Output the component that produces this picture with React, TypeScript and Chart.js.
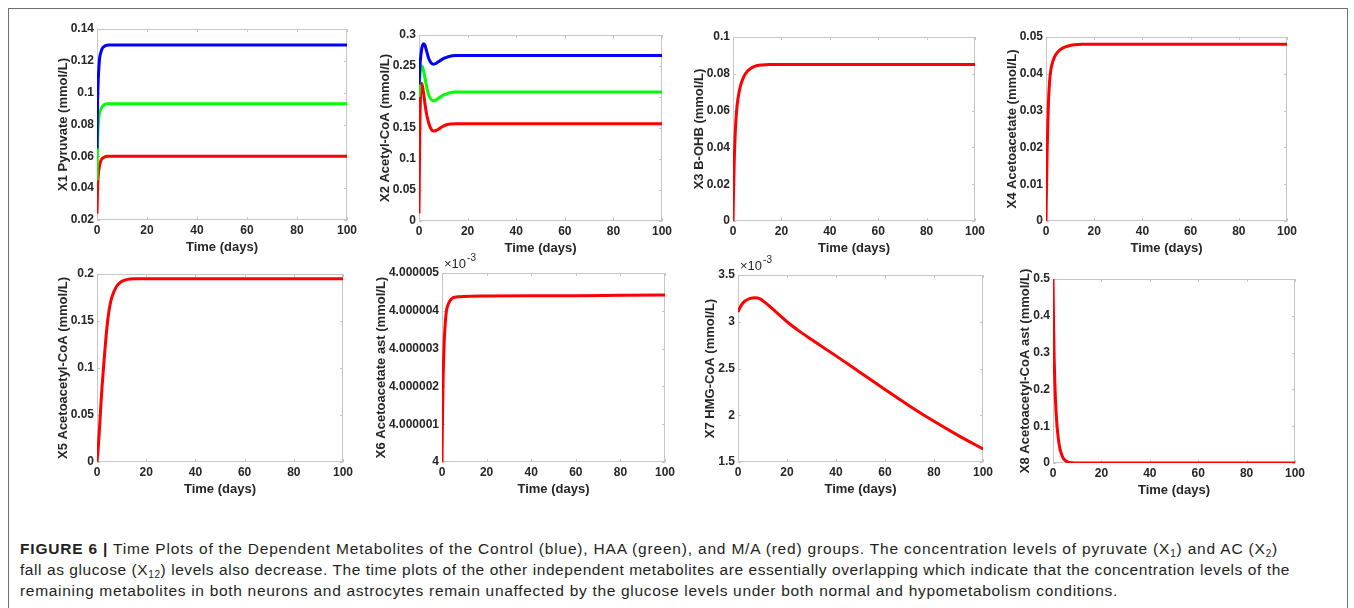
import React, { useEffect, useLayoutEffect, useRef } from "react";
import { Chart, registerables } from "chart.js";

Chart.register(...registerables);

// ---------------- data ----------------
const X_TICKS = [0, 20, 40, 60, 80, 100];

const T_X1 = [0, 0.25, 0.5, 1, 1.5, 2, 3, 4, 5, 6, 8, 10, 20, 40, 60, 80, 100];
const X1_CONTROL = [0.065, 0.095, 0.108, 0.121, 0.125, 0.1275, 0.1292, 0.1298, 0.13, 0.13, 0.13, 0.13, 0.13, 0.13, 0.13, 0.13, 0.13];
const X1_HAA = [0.045, 0.07, 0.08, 0.087, 0.0895, 0.091, 0.0925, 0.093, 0.093, 0.093, 0.093, 0.093, 0.093, 0.093, 0.093, 0.093, 0.093];
const X1_MA = [0.024, 0.041, 0.048, 0.054, 0.057, 0.0585, 0.0595, 0.06, 0.06, 0.06, 0.06, 0.06, 0.06, 0.06, 0.06, 0.06, 0.06];
const Y_TICKS_X1 = [0.02, 0.04, 0.06, 0.08, 0.1, 0.12, 0.14];

const T_X2 = [0, 0.25, 0.5, 1, 1.5, 2, 2.5, 3, 4, 5, 6, 7, 8, 10, 12, 15, 20, 40, 60, 80, 100];
const X2_CONTROL = [0.22, 0.24, 0.256, 0.275, 0.284, 0.286, 0.283, 0.276, 0.262, 0.255, 0.253, 0.254, 0.257, 0.262, 0.265, 0.267, 0.267, 0.267, 0.267, 0.267, 0.267];
const X2_HAA = [0.2, 0.225, 0.24, 0.25, 0.248, 0.24, 0.23, 0.219, 0.203, 0.196, 0.194, 0.195, 0.198, 0.203, 0.206, 0.208, 0.208, 0.208, 0.208, 0.208, 0.208];
const X2_MA = [0.012, 0.12, 0.185, 0.222, 0.216, 0.203, 0.188, 0.175, 0.158, 0.148, 0.145, 0.146, 0.148, 0.153, 0.156, 0.157, 0.157, 0.157, 0.157, 0.157, 0.157];
const Y_TICKS_X2 = [0, 0.05, 0.1, 0.15, 0.2, 0.25, 0.3];

const T_X3 = [0, 0.25, 0.5, 1, 1.5, 2, 3, 4, 5, 6, 8, 10, 12, 15, 20, 40, 60, 80, 100];
const X3_MA = [0, 0.018, 0.032, 0.05, 0.06, 0.066, 0.073, 0.077, 0.0797, 0.0815, 0.0835, 0.0845, 0.0848, 0.085, 0.085, 0.085, 0.085, 0.085, 0.085];
const Y_TICKS_X3 = [0, 0.02, 0.04, 0.06, 0.08, 0.1];

const T_X4 = [0, 0.25, 0.5, 1, 1.5, 2, 3, 4, 5, 6, 8, 10, 12, 15, 20, 40, 60, 80, 100];
const X4_MA = [0, 0.011, 0.02, 0.032, 0.038, 0.041, 0.0437, 0.0452, 0.046, 0.0466, 0.0473, 0.0477, 0.0479, 0.048, 0.048, 0.048, 0.048, 0.048, 0.048];
const Y_TICKS_X4 = [0, 0.01, 0.02, 0.03, 0.04, 0.05];

const T_X5 = [0, 0.5, 1, 1.5, 2, 3, 4, 5, 6, 8, 10, 12, 15, 20, 40, 60, 80, 100];
const X5_MA = [0, 0.015, 0.035, 0.057, 0.078, 0.112, 0.142, 0.163, 0.175, 0.187, 0.192, 0.194, 0.195, 0.195, 0.195, 0.195, 0.195, 0.195];
const Y_TICKS_X5 = [0, 0.05, 0.1, 0.15, 0.2];

// values in units of 10^-3 mmol/L
const T_X6 = [0, 0.25, 0.5, 1, 1.5, 2, 3, 4, 5, 7, 10, 20, 40, 60, 80, 100];
const X6_MA = [4.0, 4.0000013, 4.0000022, 4.0000032, 4.0000037, 4.000004, 4.0000042, 4.0000043, 4.00000435, 4.00000437, 4.00000438, 4.00000439, 4.0000044, 4.0000044, 4.00000441, 4.00000442];
const Y_TICKS_X6 = [4, 4.000001, 4.000002, 4.000003, 4.000004, 4.000005];

// values in units of 10^-3 mmol/L
const T_X7 = [0, 1, 2, 3, 5, 7, 9, 11, 14, 17, 20, 25, 30, 40, 50, 60, 70, 80, 90, 100];
const X7_MA = [3.105, 3.16, 3.2, 3.225, 3.25, 3.258, 3.245, 3.207, 3.14, 3.07, 3.0, 2.9, 2.81, 2.635, 2.455, 2.275, 2.1, 1.935, 1.782, 1.64];
const Y_TICKS_X7 = [1.5, 2, 2.5, 3, 3.5];

const T_X8 = [0, 0.15, 0.25, 0.4, 0.5, 0.75, 1, 1.5, 2, 2.5, 3, 4, 5, 6, 8, 10, 20, 40, 60, 80, 100];
const X8_MA = [0.5, 0.42, 0.37, 0.31, 0.28, 0.22, 0.175, 0.115, 0.078, 0.052, 0.035, 0.016, 0.007, 0.003, 0.0005, 0, 0, 0, 0, 0, 0];
const Y_TICKS_X8 = [0, 0.1, 0.2, 0.3, 0.4, 0.5];

const Y_TITLES = [
  "X1 Pyruvate (mmol/L)",
  "X2 Acetyl-CoA (mmol/L)",
  "X3 B-OHB (mmol/L)",
  "X4 Acetoacetate (mmol/L)",
  "X5 Acetoacetyl-CoA (mmol/L)",
  "X6 Acetoacetate ast (mmol/L)",
  "X7 HMG-CoA (mmol/L)",
  "X8 Acetoacetyl-CoA ast (mmol/L)",
];
const X_TITLE = "Time (days)";

// ---------------- styles ----------------
const BLUE = "#0000ff";
const GREEN = "#00ff00";
const RED = "#ff0000";
const TEXT = "#262626";
const BOX = "#c6c6c6";
const FONT = "'Liberation Sans', Arial, Helvetica, sans-serif";

type Series = { data: number[]; color: string };
type PanelDef = { time: number[]; series: Series[]; yTicks: number[]; title: string; exp?: boolean };

const PANELS: PanelDef[] = [
  { time: T_X1, series: [{ data: X1_CONTROL, color: BLUE }, { data: X1_HAA, color: GREEN }, { data: X1_MA, color: RED }], yTicks: Y_TICKS_X1, title: Y_TITLES[0] },
  { time: T_X2, series: [{ data: X2_CONTROL, color: BLUE }, { data: X2_HAA, color: GREEN }, { data: X2_MA, color: RED }], yTicks: Y_TICKS_X2, title: Y_TITLES[1] },
  { time: T_X3, series: [{ data: X3_MA, color: RED }], yTicks: Y_TICKS_X3, title: Y_TITLES[2] },
  { time: T_X4, series: [{ data: X4_MA, color: RED }], yTicks: Y_TICKS_X4, title: Y_TITLES[3] },
  { time: T_X5, series: [{ data: X5_MA, color: RED }], yTicks: Y_TICKS_X5, title: Y_TITLES[4] },
  { time: T_X6, series: [{ data: X6_MA, color: RED }], yTicks: Y_TICKS_X6, title: Y_TITLES[5], exp: true },
  { time: T_X7, series: [{ data: X7_MA, color: RED }], yTicks: Y_TICKS_X7, title: Y_TITLES[6], exp: true },
  { time: T_X8, series: [{ data: X8_MA, color: RED }], yTicks: Y_TICKS_X8, title: Y_TITLES[7] },
];

// plot-area boxes (layout only)
const LAYOUT = [
  { l: 97, r: 347, t: 29, b: 220 },
  { l: 419, r: 662, t: 35, b: 221 },
  { l: 733, r: 975, t: 37, b: 221 },
  { l: 1046, r: 1287, t: 37, b: 221 },
  { l: 97, r: 343, t: 274, b: 462 },
  { l: 442, r: 665, t: 273, b: 462 },
  { l: 738, r: 983, t: 275, b: 462 },
  { l: 1053, r: 1295, t: 279, b: 463 },
];

const TOP_PAD = 22;
const RIGHT_PAD = 20;
const X_AXIS_H = 35;
const Y_AXIS_W = 70;
const TICK_PAD = 3;
const TICK_FONT_SIZE = 12;
const TITLE_FONT_SIZE = 13;

const fmt = (v: number) => String(Number(Number(v).toPrecision(10)));

const boxPlugin = {
  id: "matlabBox",
  beforeDatasetsDraw(chart: any) {
    const { ctx, chartArea: a, scales } = chart;
    ctx.save();
    ctx.strokeStyle = BOX;
    ctx.lineWidth = 1;
    ctx.strokeRect(a.left + 0.5, a.top + 0.5, a.right - a.left - 1, a.bottom - a.top - 1);
    const TL = 3;
    ctx.beginPath();
    for (const t of scales.x.ticks) {
      const px = Math.round(scales.x.getPixelForValue(t.value)) + 0.5;
      ctx.moveTo(px, a.bottom);
      ctx.lineTo(px, a.bottom - TL);
      ctx.moveTo(px, a.top);
      ctx.lineTo(px, a.top + TL);
    }
    for (const t of scales.y.ticks) {
      const py = Math.round(scales.y.getPixelForValue(t.value)) + 0.5;
      ctx.moveTo(a.left, py);
      ctx.lineTo(a.left + TL, py);
      ctx.moveTo(a.right, py);
      ctx.lineTo(a.right - TL, py);
    }
    ctx.stroke();
    ctx.restore();
  },
};

const yTitlePlugin = {
  id: "yTitle",
  afterDraw(chart: any) {
    const o = chart.options.plugins.yTitle;
    if (!o) return;
    const { ctx, chartArea: a, scales } = chart;
    ctx.save();
    ctx.font = `bold ${TICK_FONT_SIZE}px ${FONT}`;
    let maxW = 0;
    for (const t of scales.y.ticks) maxW = Math.max(maxW, ctx.measureText(fmt(t.value)).width);
    const x = a.left - TICK_PAD - maxW - 1;
    ctx.font = `bold ${TITLE_FONT_SIZE}px ${FONT}`;
    ctx.fillStyle = TEXT;
    ctx.translate(x, (a.top + a.bottom) / 2);
    ctx.rotate(-Math.PI / 2);
    ctx.textAlign = "center";
    ctx.textBaseline = "bottom";
    ctx.fillText(o.text, 0, 0);
    ctx.restore();
  },
};

const expPlugin = {
  id: "expLabel",
  afterDraw(chart: any) {
    const opts = chart.options.plugins.expLabel;
    if (!opts || !opts.show) return;
    const { ctx, chartArea: a } = chart;
    ctx.save();
    ctx.fillStyle = TEXT;
    ctx.textBaseline = "alphabetic";
    ctx.textAlign = "left";
    ctx.font = `13px ${FONT}`;
    const base = a.top - 5;
    const x0 = a.left + 2;
    ctx.fillText("\u00d710", x0, base);
    const w = ctx.measureText("\u00d710").width;
    ctx.font = `10px ${FONT}`;
    ctx.fillText("-3", x0 + w + 1, base - 7);
    ctx.restore();
  },
};

function Panel({ def, box }: { def: PanelDef; box: { l: number; r: number; t: number; b: number } }) {
  const ref = useRef<HTMLCanvasElement>(null);
  const cl = box.l - Y_AXIS_W;
  const ct = box.t - TOP_PAD;
  const cw = box.r + RIGHT_PAD - cl;
  const ch = box.b + X_AXIS_H - ct;

  useEffect(() => {
    if (!ref.current) return;
    const tickFont = { family: FONT, size: TICK_FONT_SIZE, weight: "bold" as const };
    const titleFont = { family: FONT, size: TITLE_FONT_SIZE, weight: "bold" as const, lineHeight: 1.2 };
    const chart = new Chart(ref.current, {
      type: "line",
      data: {
        datasets: def.series.map((s) => ({
          data: def.time.map((t, i) => ({ x: t, y: s.data[i] })),
          borderColor: s.color,
          backgroundColor: s.color,
          borderWidth: 3,
          pointRadius: 0,
          fill: false,
          cubicInterpolationMode: "monotone" as const,
        })),
      },
      options: {
        responsive: false,
        animation: false,
        devicePixelRatio: 1,
        layout: { padding: { top: TOP_PAD, right: RIGHT_PAD, left: 0, bottom: 0 } },
        plugins: {
          legend: { display: false },
          tooltip: { enabled: false },
          expLabel: { show: !!def.exp },
          yTitle: { text: def.title },
        } as any,
        scales: {
          x: {
            type: "linear",
            min: 0,
            max: 100,
            grid: { display: false, drawTicks: false },
            border: { display: false },
            afterBuildTicks: (s: any) => {
              s.ticks = X_TICKS.map((v) => ({ value: v }));
            },
            afterFit: (s: any) => {
              s.height = X_AXIS_H;
            },
            ticks: { autoSkip: false, maxRotation: 0, padding: 3, color: TEXT, font: tickFont, callback: (v: any) => fmt(v) },
            title: { display: true, text: X_TITLE, color: TEXT, font: titleFont, padding: 0 },
          },
          y: {
            type: "linear",
            min: def.yTicks[0],
            max: def.yTicks[def.yTicks.length - 1],
            grid: { display: false, drawTicks: false },
            border: { display: false },
            afterBuildTicks: (s: any) => {
              s.ticks = def.yTicks.map((v) => ({ value: v }));
            },
            afterFit: (s: any) => {
              s.width = Y_AXIS_W;
            },
            ticks: { autoSkip: false, padding: TICK_PAD, color: TEXT, font: tickFont, callback: (v: any) => fmt(v) },
            title: { display: false },
          },
        },
      } as any,
      plugins: [boxPlugin, yTitlePlugin, expPlugin],
    });
    return () => chart.destroy();
  }, []);

  return (
    <canvas
      ref={ref}
      width={cw}
      height={ch}
      style={{ position: "absolute", left: cl, top: ct, width: cw, height: ch }}
    />
  );
}

const CAP_FONT = "'Liberation Sans Narrow', 'Liberation Sans', Arial, sans-serif";
const CAP_LINE_WIDTHS = [1258, 1270, 1098];
const subStyle: React.CSSProperties = { fontSize: "10px", verticalAlign: "-3px", lineHeight: 0 };

function Caption() {
  const refs = [useRef<HTMLSpanElement>(null), useRef<HTMLSpanElement>(null), useRef<HTMLSpanElement>(null)];
  useLayoutEffect(() => {
    const fit = () => {
      refs.forEach((r, i) => {
        const el = r.current;
        if (!el) return;
        el.style.letterSpacing = "0px";
        const w = el.getBoundingClientRect().width;
        const n = (el.textContent || "").length;
        el.style.letterSpacing = `${(CAP_LINE_WIDTHS[i] - w) / n}px`;
      });
    };
    fit();
    if ((document as any).fonts && (document as any).fonts.ready) (document as any).fonts.ready.then(fit);
  }, []);
  const lineStyle: React.CSSProperties = { display: "inline-block", whiteSpace: "nowrap" };
  return (
    <div
      style={{
        position: "absolute",
        left: 20,
        top: 538,
        fontFamily: CAP_FONT,
        fontSize: "15.5px",
        lineHeight: "21px",
        color: "#231f20",
      }}
    >
      <div>
        <span ref={refs[0]} style={lineStyle}>
          <b>FIGURE 6 |</b> Time Plots of the Dependent Metabolites of the Control (blue), HAA (green), and M/A (red) groups. The concentration levels of pyruvate (X<sub style={subStyle}>1</sub>) and AC (X<sub style={subStyle}>2</sub>)
        </span>
      </div>
      <div>
        <span ref={refs[1]} style={lineStyle}>
          fall as glucose (X<sub style={subStyle}>12</sub>) levels also decrease. The time plots of the other independent metabolites are essentially overlapping which indicate that the concentration levels of the
        </span>
      </div>
      <div>
        <span ref={refs[2]} style={lineStyle}>
          remaining metabolites in both neurons and astrocytes remain unaffected by the glucose levels under both normal and hypometabolism conditions.
        </span>
      </div>
    </div>
  );
}

export default function App() {
  return (
    <div style={{ position: "absolute", left: 0, top: 0, width: 1354, height: 608, background: "#fff", overflow: "hidden" }}>
      <div
        style={{
          position: "absolute",
          left: 8,
          top: 8,
          width: 1340,
          height: 640,
          border: "1.5px solid #707070",
          boxSizing: "border-box",
        }}
      />
      {PANELS.map((p, i) => (
        <Panel key={i} def={p} box={LAYOUT[i]} />
      ))}
      <Caption />
    </div>
  );
}
